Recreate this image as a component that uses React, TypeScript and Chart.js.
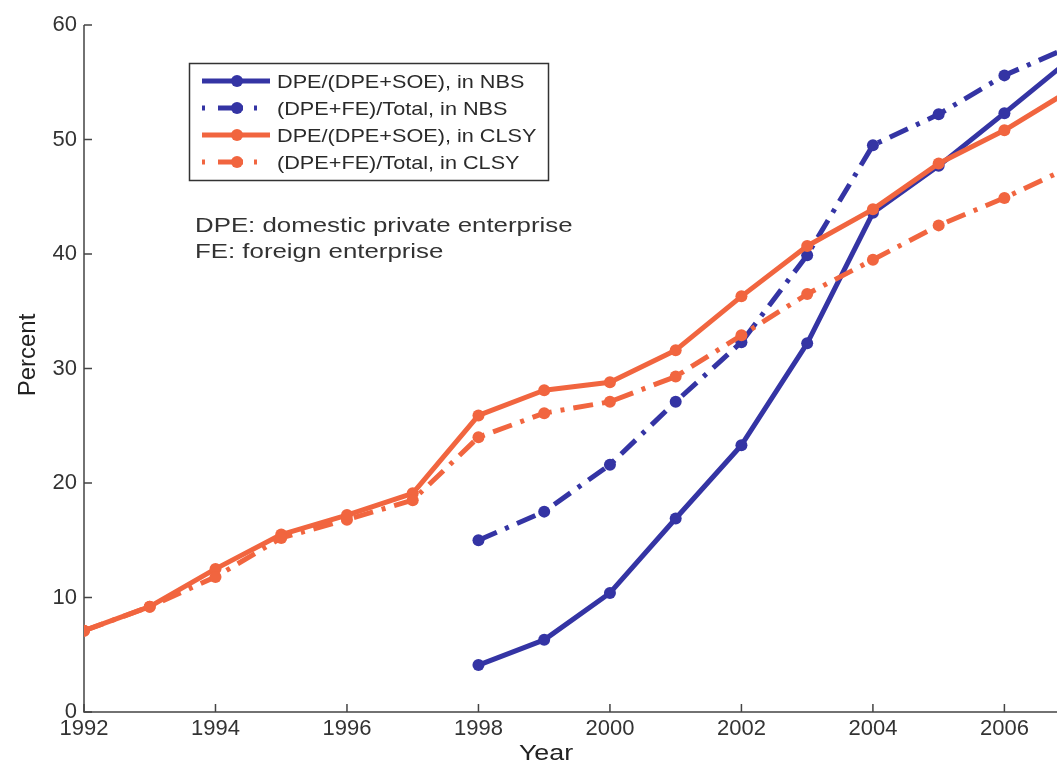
import React, { useEffect, useRef } from "react";
import { Chart, registerables } from "chart.js";

Chart.register(...registerables);

// ---- data ----
const years = [1992, 1993, 1994, 1995, 1996, 1997, 1998, 1999, 2000, 2001, 2002, 2003, 2004, 2005, 2006, 2007];
const nbsRatio = [null, null, null, null, null, null, 4.1, 6.3, 10.4, 16.9, 23.3, 32.2, 43.6, 47.7, 52.3, 57.0];
const nbsShare = [null, null, null, null, null, null, 15.0, 17.5, 21.6, 27.1, 32.3, 39.9, 49.5, 52.2, 55.6, 58.1];
const clsyRatio = [7.1, 9.2, 12.5, 15.5, 17.2, 19.1, 25.9, 28.1, 28.8, 31.6, 36.3, 40.7, 43.9, 47.9, 50.8, 54.3];
const clsyShare = [7.1, 9.2, 11.8, 15.2, 16.8, 18.5, 24.0, 26.1, 27.1, 29.3, 32.9, 36.5, 39.5, 42.5, 44.9, 47.6];
const seriesLabels = [
  "DPE/(DPE+SOE), in NBS",
  "(DPE+FE)/Total, in NBS",
  "DPE/(DPE+SOE), in CLSY",
  "(DPE+FE)/Total, in CLSY",
];
const xTicks = [1992, 1994, 1996, 1998, 2000, 2002, 2004, 2006];
const yTicks = [0, 10, 20, 30, 40, 50, 60];
const notes = ["DPE: domestic private enterprise", "FE: foreign enterprise"];
const xTitle = "Year";
const yTitle = "Percent";

const FONT = "'Liberation Sans', Arial, Helvetica, sans-serif";
const BLUE = "#3434a4";
const ORANGE = "#f1653f";
const DASHDOT = [20, 9, 4, 9];

export default function App() {
  const ref = useRef<HTMLCanvasElement>(null);

  useEffect(() => {
    const canvas = ref.current;
    if (!canvas) return;

    const toPoints = (vals: (number | null)[]) =>
      years.map((x, i) => ({ x, y: vals[i] })).filter((p) => p.y !== null);

    const styles = [
      { color: BLUE, dash: [] as number[] },
      { color: BLUE, dash: DASHDOT },
      { color: ORANGE, dash: [] as number[] },
      { color: ORANGE, dash: DASHDOT },
    ];
    const series = [nbsRatio, nbsShare, clsyRatio, clsyShare];

    const stretchText = (
      ctx: CanvasRenderingContext2D,
      text: string,
      x: number,
      y: number,
      sx: number
    ) => {
      ctx.save();
      ctx.translate(x, y);
      ctx.scale(sx, 1);
      ctx.fillText(text, 0, 0);
      ctx.restore();
    };

    const decor = {
      id: "decor",
      beforeDatasetsDraw(chart: any) {
        const { ctx, chartArea: a, scales } = chart;
        const xs = scales.x;
        const ys = scales.y;
        ctx.save();
        ctx.strokeStyle = "#444";
        ctx.lineWidth = 1.5;
        ctx.beginPath();
        ctx.moveTo(a.left, a.top);
        ctx.lineTo(a.left, a.bottom);
        ctx.lineTo(a.right, a.bottom);
        ctx.stroke();
        ctx.beginPath();
        yTicks.forEach((v) => {
          const py = ys.getPixelForValue(v);
          ctx.moveTo(a.left, py);
          ctx.lineTo(a.left + 8, py);
        });
        xTicks.forEach((v) => {
          const px = xs.getPixelForValue(v);
          ctx.moveTo(px, a.bottom);
          ctx.lineTo(px, a.bottom - 8);
        });
        ctx.stroke();
        ctx.restore();
      },
      afterDraw(chart: any) {
        const { ctx } = chart;
        ctx.save();
        // legend box
        const bx = 189.5, by = 63.5, bw = 359, bh = 117;
        ctx.fillStyle = "#fff";
        ctx.fillRect(bx, by, bw, bh);
        ctx.strokeStyle = "#333";
        ctx.lineWidth = 1.5;
        ctx.strokeRect(bx, by, bw, bh);
        const rows = [81, 108, 135, 162];
        seriesLabels.forEach((label, i) => {
          const yy = rows[i];
          const st = styles[i];
          ctx.strokeStyle = st.color;
          ctx.fillStyle = st.color;
          ctx.lineWidth = 5;
          ctx.lineCap = "butt";
          ctx.beginPath();
          if (st.dash.length === 0) {
            ctx.moveTo(202, yy);
            ctx.lineTo(270, yy);
          } else {
            ctx.moveTo(202, yy);
            ctx.lineTo(205, yy);
            ctx.moveTo(218, yy);
            ctx.lineTo(243, yy);
            ctx.moveTo(254, yy);
            ctx.lineTo(257, yy);
          }
          ctx.stroke();
          ctx.beginPath();
          ctx.arc(237, yy, 6, 0, Math.PI * 2);
          ctx.fill();
          ctx.fillStyle = "#2a2a2a";
          ctx.font = `19px ${FONT}`;
          ctx.textAlign = "left";
          ctx.textBaseline = "alphabetic";
          stretchText(ctx, label, 277, yy + 7, 1.14);
        });
        // notes
        ctx.fillStyle = "#333";
        ctx.font = `21px ${FONT}`;
        ctx.textAlign = "left";
        ctx.textBaseline = "alphabetic";
        stretchText(ctx, notes[0], 195, 232, 1.23);
        stretchText(ctx, notes[1], 195, 258, 1.23);
        // axis titles
        ctx.fillStyle = "#222";
        ctx.font = `22px ${FONT}`;
        ctx.textAlign = "center";
        stretchText(ctx, xTitle, 546, 760, 1.22);
        ctx.save();
        ctx.translate(35, 355);
        ctx.rotate(-Math.PI / 2);
        ctx.font = `24px ${FONT}`;
        ctx.textAlign = "center";
        ctx.fillText(yTitle, 0, 0);
        ctx.restore();
        ctx.restore();
      },
    };

    const chart = new Chart(canvas, {
      type: "line",
      data: {
        datasets: series.map((vals, i) => ({
          label: seriesLabels[i],
          data: toPoints(vals) as any,
          borderColor: styles[i].color,
          backgroundColor: styles[i].color,
          borderWidth: 5,
          borderDash: styles[i].dash,
          borderCapStyle: "butt" as const,
          borderJoinStyle: "round" as const,
          pointRadius: 6,
          pointBorderWidth: 0,
          pointBackgroundColor: styles[i].color,
          pointStyle: "circle" as const,
          tension: 0,
          fill: false,
          order: 3 - i,
        })),
      },
      options: {
        animation: false,
        responsive: false,
        devicePixelRatio: 1,
        layout: { autoPadding: false, padding: { top: 25, right: 0, left: 0, bottom: 0 } },
        plugins: {
          legend: { display: false },
          tooltip: { enabled: false },
        },
        scales: {
          x: {
            type: "linear",
            min: 1992,
            max: 2006.8,
            grid: { display: false, drawTicks: false },
            border: { display: false },
            afterBuildTicks: (scale: any) => {
              scale.ticks = xTicks.map((v) => ({ value: v }));
            },
            afterFit: (scale: any) => {
              scale.height = 55;
            },
            ticks: {
              autoSkip: false,
              maxRotation: 0,
              padding: 4,
              color: "#333",
              font: { family: FONT, size: 22 },
              callback: (v: any) => String(v),
            },
          },
          y: {
            type: "linear",
            min: 0,
            max: 60,
            grid: { display: false, drawTicks: false },
            border: { display: false },
            afterBuildTicks: (scale: any) => {
              scale.ticks = yTicks.map((v) => ({ value: v }));
            },
            afterFit: (scale: any) => {
              scale.width = 84;
            },
            ticks: {
              padding: 7,
              color: "#333",
              font: { family: FONT, size: 22 },
              callback: (v: any) => String(v),
            },
          },
        },
      },
      plugins: [decor],
    });

    return () => chart.destroy();
  }, []);

  return (
    <div style={{ position: "absolute", left: 0, top: 0, width: 1057, height: 767, background: "#fff" }}>
      <canvas ref={ref} width={1057} height={767} style={{ width: 1057, height: 767, display: "block" }} />
    </div>
  );
}
